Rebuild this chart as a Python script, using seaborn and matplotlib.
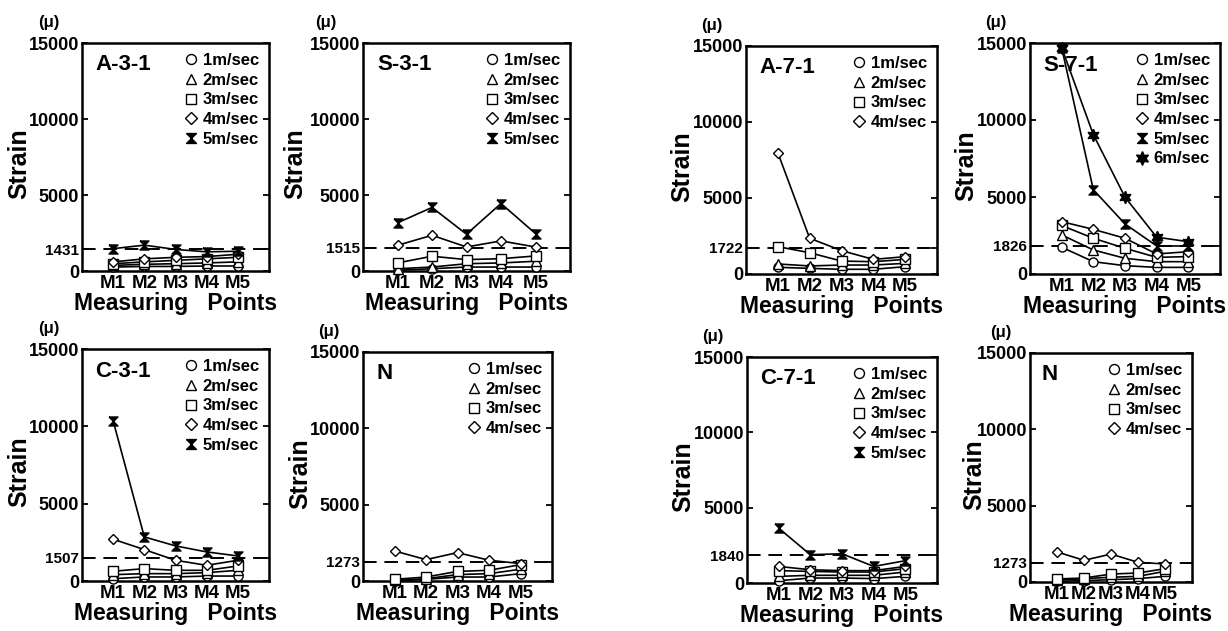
import matplotlib
matplotlib.use("Agg")
import matplotlib.pyplot as plt
import seaborn as sns
import pandas as pd
from matplotlib.lines import Line2D

# ---------------- data ----------------
points = ["M1", "M2", "M3", "M4", "M5"]
speeds = ["1m/sec", "2m/sec", "3m/sec", "4m/sec", "5m/sec", "6m/sec"]

a31_ref = 1431
a31_1 = [260, 300, 300, 330, 330]
a31_2 = [370, 440, 480, 530, 600]
a31_3 = [480, 600, 700, 800, 900]
a31_4 = [600, 800, 900, 950, 1100]
a31_5 = [1470, 1700, 1420, 1260, 1300]

s31_ref = 1515
s31_1 = [50, 150, 260, 260, 260]
s31_2 = [150, 260, 480, 530, 640]
s31_3 = [530, 970, 750, 810, 990]
s31_4 = [1690, 2350, 1580, 1980, 1580]
s31_5 = [3170, 4180, 2420, 4440, 2460]

a71_ref = 1722
a71_1 = [440, 370, 310, 310, 480]
a71_2 = [660, 530, 590, 590, 700]
a71_3 = [1800, 1400, 850, 810, 960]
a71_4 = [7980, 2350, 1540, 960, 1140]

s71_ref = 1826
s71_1 = [1740, 800, 540, 430, 430]
s71_2 = [2540, 1560, 1020, 800, 800]
s71_3 = [3150, 2320, 1670, 1080, 1130]
s71_4 = [3400, 2900, 2320, 1300, 1450]
s71_5 = [14700, 5470, 3250, 1820, 1820]
s71_6 = [14700, 9050, 4990, 2390, 2100]

c31_ref = 1507
c31_1 = [150, 260, 260, 320, 320]
c31_2 = [410, 475, 475, 540, 690]
c31_3 = [630, 800, 690, 690, 970]
c31_4 = [2700, 2030, 1340, 1015, 1340]
c31_5 = [10350, 2850, 2270, 1880, 1620]

n3_ref = 1273
n3_1 = [0, 110, 260, 260, 480]
n3_2 = [40, 150, 420, 480, 770]
n3_3 = [110, 260, 630, 700, 1070]
n3_4 = [1970, 1400, 1860, 1360, 1140]

c71_ref = 1840
c71_1 = [150, 330, 330, 290, 440]
c71_2 = [440, 510, 510, 510, 730]
c71_3 = [820, 770, 730, 730, 950]
c71_4 = [1100, 880, 820, 820, 1100]
c71_5 = [3640, 1880, 1940, 1100, 1480]

n7_ref = 1273
n7_1 = [40, 90, 150, 220, 370]
n7_2 = [110, 220, 310, 370, 700]
n7_3 = [200, 260, 520, 590, 870]
n7_4 = [1970, 1420, 1830, 1290, 1180]

panel_names = ["A-3-1", "S-3-1", "A-7-1", "S-7-1", "C-3-1", "N", "C-7-1", "N"]

# ---------------- style ----------------
sns.set_style("white")
plt.rcParams["font.family"] = ["Liberation Sans", "DejaVu Sans"]
plt.rcParams["font.weight"] = "bold"
plt.rcParams["axes.labelweight"] = "bold"
for k in ["text.color", "axes.labelcolor", "xtick.color", "ytick.color", "axes.edgecolor"]:
    plt.rcParams[k] = "black"

HOURGLASS = [(-1, 1), (1, 1), (-1, -1), (1, -1), (-1, 1)]
marker_styles = [
    dict(marker="o", mfc="white", ms=6.5),
    dict(marker="^", mfc="white", ms=6.5),
    dict(marker="s", mfc="white", ms=6.5),
    dict(marker="D", mfc="white", ms=5.5),
    dict(marker=HOURGLASS, mfc="black", ms=6.5),
    dict(marker=(6, 1, 0), mfc="black", ms=9),
]

fig = plt.figure(figsize=(12.28, 6.31), dpi=100)
W, H = 1228.0, 631.0
boxes = [
    (82, 269, 43, 271), (363, 570, 43, 271), (746, 937, 46, 274), (1030, 1220, 43, 274),
    (82, 269, 349, 581), (363, 552, 352, 581), (747, 937, 357, 583), (1030, 1192, 353, 582),
]

panels = [
    (a31_ref, [a31_1, a31_2, a31_3, a31_4, a31_5]),
    (s31_ref, [s31_1, s31_2, s31_3, s31_4, s31_5]),
    (a71_ref, [a71_1, a71_2, a71_3, a71_4]),
    (s71_ref, [s71_1, s71_2, s71_3, s71_4, s71_5, s71_6]),
    (c31_ref, [c31_1, c31_2, c31_3, c31_4, c31_5]),
    (n3_ref, [n3_1, n3_2, n3_3, n3_4]),
    (c71_ref, [c71_1, c71_2, c71_3, c71_4, c71_5]),
    (n7_ref, [n7_1, n7_2, n7_3, n7_4]),
]

for (l, r, t, b), name, (ref, series) in zip(boxes, panel_names, panels):
    ax = fig.add_axes([l / W, 1 - b / H, (r - l) / W, (b - t) / H])
    for i, vals in enumerate(series):
        df = pd.DataFrame({"point": points, "strain": vals})
        st = marker_styles[i]
        sns.lineplot(data=df, x="point", y="strain", ax=ax, sort=False,
                     color="black", lw=1.2, marker=st["marker"], ms=st["ms"],
                     mfc=st["mfc"], mec="black", mew=1.0, clip_on=False, zorder=3)
    ax.axhline(ref, color="black", lw=1.4, dashes=(7, 4), zorder=2)
    ax.set_xlim(-1, 5)
    ax.set_ylim(0, 15000)
    ax.set_yticks([0, ref, 5000, 10000, 15000])
    ax.set_yticklabels(["0", str(ref), "5000", "10000", "15000"])
    for lab in ax.get_yticklabels():
        lab.set_fontweight("bold")
        lab.set_fontsize(11 if lab.get_text() == str(ref) else 13)
    for lab in ax.get_xticklabels():
        lab.set_fontweight("bold")
        lab.set_fontsize(13.5)
    ax.tick_params(axis="y", direction="in", left=True, right=True, length=4, width=1.3, pad=2)
    ax.tick_params(axis="x", length=0, pad=3)
    for sp in ax.spines.values():
        sp.set_linewidth(1.8)
    ax.set_xlabel("Measuring   Points", fontsize=16.5, fontweight="bold", labelpad=0)
    ax.set_ylabel("Strain", fontsize=18, fontweight="bold")
    ax.yaxis.set_label_coords(-0.27, 0.47)
    ax.text(-0.18, 1.09, "(\u03bc)", transform=ax.transAxes, ha="center", va="center",
            fontsize=12, fontweight="bold")
    ax.text(0.07, 0.95, name, transform=ax.transAxes, ha="left", va="top",
            fontsize=16, fontweight="bold")
    handles = [Line2D([], [], ls="none", color="black", marker=marker_styles[i]["marker"],
                      ms=marker_styles[i]["ms"] * 1.1, mfc=marker_styles[i]["mfc"], mec="black", mew=1.0)
               for i in range(len(series))]
    ax.legend(handles, speeds[:len(series)], loc="upper right", frameon=False,
              handlelength=0.7, handletextpad=0.35, labelspacing=0.28, borderaxespad=0.2,
              prop={"weight": "bold", "size": 12})

fig.savefig("out.png", dpi=100)
